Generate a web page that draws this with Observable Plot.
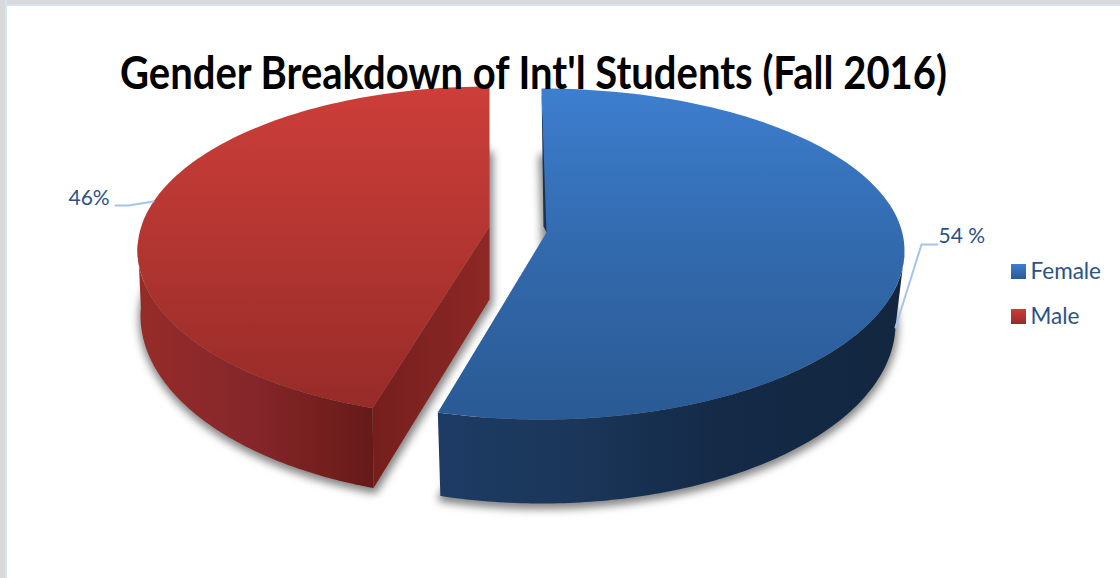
<!DOCTYPE html>
<html>
<head>
<meta charset="utf-8">
<script src="https://cdn.jsdelivr.net/npm/d3@7"></script>
<script src="https://cdn.jsdelivr.net/npm/@observablehq/plot@0.6"></script>
<style>
  html, body { margin: 0; padding: 0; background: #fff; overflow: hidden; }
  #frame { position: relative; width: 1120px; height: 578px; overflow: hidden; }
  #frame svg { display: block; position: absolute; left: 0; top: 0; background: transparent; }
  #frame::before { content: ""; position: absolute; left: 0; top: 0; right: 0; height: 4px; background: #d9d9d9; border-bottom: 2px solid #d5e4f5; }
  #frame::after { content: ""; position: absolute; left: 0; top: 0; bottom: 0; width: 5px; background: #d9d9d9; border-right: 2px solid #d5e4f5; }
</style>
</head>
<body>
<div id="frame"></div>
<script>
// --- data
const categories = ["Female", "Male"];
const shares = [54, 46];
const shareLabels = ["54 %", "46%"];
const chartTitle = "Gender Breakdown of Int'l Students (Fall 2016)";

// --- drawing constants for the fake-3D look
const sliceLayout = {
  Female: {
    top: {cx: 541, cy: 250, rx: 363, up: 162, down: 169},
    base: {cx: 541, cy: 323, rx: 354, up: 170, down: 180},
    apexTop: [546, 232], apexBase: [546, 305], splitShift: 2.2,
    face: "url(#faceBlue)", wall: "url(#wallBlue)"
  },
  Male: {
    top: {cx: 489, cy: 250, rx: 352, up: 164, down: 167},
    base: {cx: 489, cy: 315, rx: 349, up: 165, down: 183},
    apexTop: [489, 226], apexBase: [489, 299], splitShift: 5,
    face: "url(#faceRed)", wall: "url(#wallRed)"
  }
};
const labelLayout = {
  Female: {tx: 938, ty: 236, leader: [[937, 244], [921, 244], [895, 327]]},
  Male: {tx: 68, ty: 198, leader: [[115, 205], [128, 205], [153, 201]]}
};
const legendLayout = {x: 1011, size: 15, ys: [264, 309], tx: 1030};

// --- pie angles from the values
const total = d3.sum(shares);
let running = 0;
const slices = categories.map((name, i) => {
  const a0 = running / total * 360;
  running += shares[i];
  return {name, a0, a1: running / total * 360, label: shareLabels[i], ...sliceLayout[name]};
});

function rimPoint(slice, ring, theta) {
  // perspective pushes the split edge further round on screen
  const span = slice.a1 - slice.a0;
  const t = slice.name === "Female" ? (theta - slice.a0) / span : (slice.a1 - theta) / span;
  const a = (theta + slice.splitShift * t) * Math.PI / 180;
  const u = Math.sin(a), v = -Math.cos(a);
  return [ring.cx + ring.rx * u, ring.cy + (v < 0 ? ring.up : ring.down) * v];
}
function arc(slice, ring, from, to, n = 120) {
  return d3.range(n + 1).map(i => rimPoint(slice, ring, from + (to - from) * i / n));
}
const shape = (pts, options) => Plot.line(pts, {x: d => d[0], y: d => d[1], curve: "linear-closed", ...options});

const marks = [];
const defsMark = () => {
  const defs = d3.create("svg:defs");
  const grad = (id, horizontal, stops) => {
    const g = defs.append("linearGradient").attr("id", id)
      .attr("x1", 0).attr("y1", 0).attr("x2", horizontal ? 1 : 0).attr("y2", horizontal ? 0 : 1);
    stops.forEach(([o, c]) => g.append("stop").attr("offset", o).attr("stop-color", c));
  };
  grad("faceBlue", false, [[0, "#3d7ecf"], [0.5, "#3269ac"], [1, "#2a5a94"]]);
  grad("faceRed", false, [[0, "#cd3e39"], [0.5, "#b23531"], [1, "#962b28"]]);
  grad("wallBlue", true, [[0, "#1d3b64"], [0.3, "#1a3659"], [0.6, "#142a47"], [1, "#12263f"]]);
  grad("wallRed", true, [[0, "#962c29"], [0.5, "#85262a"], [0.8, "#731f1d"], [1, "#651a19"]]);
  grad("cutRed", true, [[0, "#751f1d"], [1, "#8d2826"]]);
  grad("legBlue", false, [[0, "#3d7ecf"], [1, "#2a5a94"]]);
  grad("legRed", false, [[0, "#cd3e39"], [1, "#962b28"]]);
  return defs.node();
};
marks.push(defsMark);

const [female, male] = slices;

// soft shadows under the base of each slice
[female, male].forEach(s => {
  const pts = [...arc(s, s.base, s.a0, s.a1), s.apexBase];
  marks.push(shape(pts, {fill: "#444", stroke: "#444", strokeWidth: 5, fillOpacity: 0.6, strokeOpacity: 0.6, dx: s === male ? 1 : 0, dy: 3, imageFilter: "blur(4px)"}));
});

// Male: outer wall, cut wall, face
marks.push(shape([...arc(male, male.top, male.a0, 270), ...arc(male, male.base, 270, male.a0)], {fill: male.wall}));
const mCornerTop = rimPoint(male, male.top, male.a0), mCornerBase = rimPoint(male, male.base, male.a0);
marks.push(shape([mCornerTop, mCornerBase, male.apexBase, male.apexTop], {fill: "url(#cutRed)"}));
marks.push(shape([...arc(male, male.top, male.a0, male.a1), male.apexTop], {fill: male.face}));

// Female: outer wall, sliver of cut wall at the top, cut edge, face
marks.push(shape([...arc(female, female.top, female.a1, 90), ...arc(female, female.base, 90, female.a1)], {fill: female.wall}));
const fStart = rimPoint(female, female.top, female.a0);
marks.push(shape([fStart, [female.apexTop[0] + 2, female.apexTop[1] - 4], female.apexTop, [female.apexTop[0] - 3, female.apexTop[1] - 6]], {fill: "#1a3354"}));
marks.push(shape([...arc(female, female.top, female.a0, female.a1), female.apexTop], {fill: female.face}));

// leader lines and value labels
slices.forEach(s => {
  const l = labelLayout[s.name];
  marks.push(Plot.line(l.leader, {x: d => d[0], y: d => d[1], stroke: "#a4c4ea", strokeWidth: 2}));
  marks.push(Plot.text([s.label], {x: () => l.tx, y: () => l.ty, text: d => d, textAnchor: "start", fontSize: 21, fill: "#2a5288", fontFamily: "Lato"}));
});

// legend
marks.push(Plot.rect(slices, {
  x1: () => legendLayout.x, x2: () => legendLayout.x + legendLayout.size,
  y1: (d, i) => legendLayout.ys[i], y2: (d, i) => legendLayout.ys[i] + legendLayout.size,
  fill: (d, i) => i === 0 ? "url(#legBlue)" : "url(#legRed)"
}));
marks.push(Plot.text(slices, {
  x: () => legendLayout.tx, y: (d, i) => legendLayout.ys[i] + 7,
  text: "name", textAnchor: "start", fontSize: 22.5, fill: "#2a5288", fontFamily: "Lato"
}));

// title
marks.push(Plot.text([chartTitle], {
  x: () => 533, y: () => 74, text: d => d, textAnchor: "middle",
  fontSize: 45, fontWeight: 700, fill: "#000", fontFamily: "Lato",
  ariaLabel: "chart-title"
}));

const chart = Plot.plot({
  width: 1120, height: 578,
  margin: 0,
  x: {domain: [0, 1120], range: [0, 1120], axis: null},
  y: {domain: [0, 578], range: [0, 578], axis: null},
  color: {type: "identity"},
  style: {background: "transparent"},
  marks
});
document.getElementById("frame").appendChild(chart);
// squeeze the title to the reference's narrower face
d3.select(chart).selectAll("text").filter(function () { return this.textContent === chartTitle; })
  .attr("textLength", 827).attr("lengthAdjust", "spacingAndGlyphs");
</script>
</body>
</html>
